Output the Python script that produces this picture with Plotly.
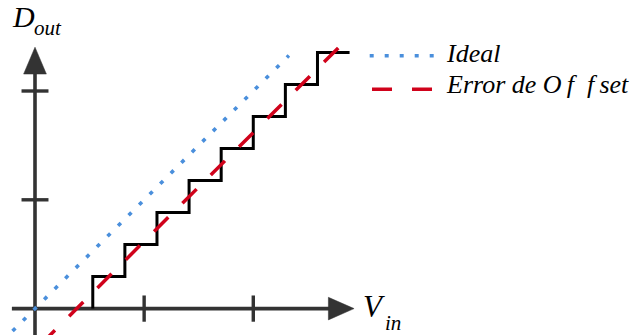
import plotly.graph_objects as go

# ADC transfer characteristic: ideal line, offset-shifted line and the output staircase
codes = [0, 1, 2, 3, 4, 5, 6, 7, 8]                               # output code D_out
transitions = [1.8, 2.8, 3.8, 4.8, 5.8, 6.8, 7.8, 8.8, 9.8]       # V_in where each code begins (last = end)
ideal_vin = [-0.70, 7.91]                                         # ideal transfer line D = V
offset = 1.3                                                      # offset error in LSB
offset_vin = [0.18, 9.45]
axis_ticks = [3.4, 6.8]

W, H = 634, 335
# data range chosen so 1 LSB ~ 32 px on both axes, origin near the lower-left corner
x_range = [-35 / 32.1, (W - 35) / 32.1]
y_range = [-(H - 308.6) / 32.0, 308.6 / 32.0]

AX = "#333333"
BLUE = "#4a8fdc"
RED = "#d0021b"
FONT = "Liberation Serif, Times New Roman, DejaVu Serif, serif"

fig = go.Figure()

fig.add_trace(go.Scatter(
    x=transitions, y=codes, mode="lines", line_shape="vh",
    line=dict(color="black", width=3), hoverinfo="skip"))

fig.add_trace(go.Scatter(
    x=ideal_vin, y=ideal_vin, mode="lines",
    line=dict(color=BLUE, width=3.6, dash="4px,10.9px"), hoverinfo="skip"))

fig.add_trace(go.Scatter(
    x=offset_vin, y=[v - offset for v in offset_vin], mode="lines",
    line=dict(color=RED, width=3.5, dash="20px,20px"), hoverinfo="skip"))

shapes = []
# axes
shapes.append(dict(type="line", x0=-0.72, y0=0, x1=9.3, y1=0, xref="x", yref="y",
                   line=dict(color=AX, width=3.6), layer="below"))
shapes.append(dict(type="line", x0=0, y0=-1.2, x1=0, y1=7.5, xref="x", yref="y",
                   line=dict(color=AX, width=3.6), layer="below"))
# arrow heads
ax_tip, ax_base, ax_half = 9.94, 9.14, 0.353
ay_tip, ay_base, ay_half = 8.17, 7.33, 0.354
shapes.append(dict(type="path", xref="x", yref="y", layer="below",
                   path=f"M {ax_base},{ax_half} L {ax_tip},0 L {ax_base},{-ax_half} Z",
                   fillcolor=AX, line=dict(color=AX, width=0.5)))
shapes.append(dict(type="path", xref="x", yref="y", layer="below",
                   path=f"M {-ay_half},{ay_base} L 0,{ay_tip} L {ay_half},{ay_base} Z",
                   fillcolor=AX, line=dict(color=AX, width=0.5)))
# tick marks crossing the axes
for t in axis_ticks:
    shapes.append(dict(type="line", x0=t, x1=t, y0=-0.41, y1=0.41, xref="x", yref="y",
                       line=dict(color=AX, width=3.4), layer="below"))
    shapes.append(dict(type="line", y0=t, y1=t, x0=-0.42, x1=0.42, xref="x", yref="y",
                       line=dict(color=AX, width=3.4), layer="below"))

# legend samples (paper coords, plot area == whole figure)
def px(x):
    return x / W

def py(y):
    return 1 - y / H

shapes.append(dict(type="line", xref="paper", yref="paper",
                   x0=px(369.7), x1=px(434), y0=py(55.7), y1=py(55.7),
                   line=dict(color=BLUE, width=3.6, dash="4px,11px")))
shapes.append(dict(type="line", xref="paper", yref="paper",
                   x0=px(372), x1=px(432.7), y0=py(89.3), y1=py(89.3),
                   line=dict(color=RED, width=3.5, dash="20px,20px")))

def label(text, x, y, size):
    return dict(text=text, x=px(x), y=py(y), xref="paper", yref="paper",
                xanchor="left", yanchor="middle", showarrow=False,
                font=dict(family=FONT, size=size, color="black"))

annotations = [
    label("<i>D</i>", 10, 17.0, 30),
    label("<i>out</i>", 31.5, 28.0, 21),
    label("<i>V</i>", 361, 306.0, 31),
    label("<i>in</i>", 383, 323.2, 21),
    label("<i>Ideal</i>", 444, 53.5, 26),
    label("<i>Error de O\u2009f\u2002f\u2009set</i>", 444, 84.2, 26),
]

fig.update_layout(
    width=W, height=H,
    margin=dict(l=0, r=0, t=0, b=0),
    paper_bgcolor="white", plot_bgcolor="white",
    showlegend=False,
    xaxis=dict(range=x_range, visible=False, fixedrange=True),
    yaxis=dict(range=y_range, visible=False, fixedrange=True),
    shapes=shapes, annotations=annotations,
)

fig.write_html("out.html")
